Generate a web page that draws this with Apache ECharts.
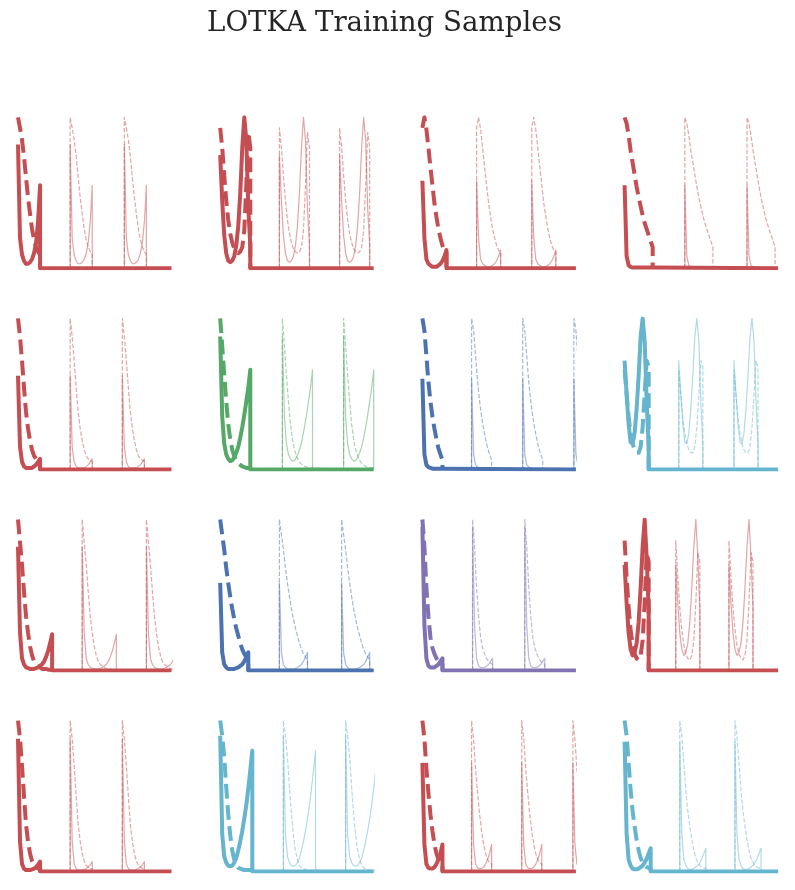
<!DOCTYPE html>
<html><head><meta charset="utf-8">
<script src="https://cdn.jsdelivr.net/npm/echarts@6/dist/echarts.min.js"></script>
<style>html,body{margin:0;padding:0;background:#fff}#c{width:795px;height:890px}</style>
</head><body><div id="c"></div><script>
// time step between samples and padded sequence length
const DT = 2;
const T_END = 153;

// ---- row 1 ----
const prey_r0c0 = [82, 20, 9, 5, 3, 3, 4, 6, 10, 17, 31, 55];
const pred_r0c0 = [100, 93, 85, 74, 60, 47, 36, 26, 19, 14, 11, 9];
const copies_r0c0 = [52, 106];

const prey_r0c1 = [75, 45, 22, 10, 5, 4, 5, 8, 15, 28, 50, 80, 100, 85, 40, 15];
const pred_r0c1 = [93, 80, 62, 45, 32, 23, 17, 13, 11, 10, 11, 14, 25, 55, 90, 80];
const copies_r0c1 = [59, 119];

const prey_r0c2 = [58, 20, 6, 3, 2, 1, 1, 1, 2, 3, 5, 8, 12];
const pred_r0c2 = [93, 100, 92, 80, 67, 55, 43, 34, 26, 20, 15, 12, 11];
const copies_r0c2 = [54, 109];

const prey_r0c3 = [55, 8, 2, 1, 0.5, 0.5, 0.5, 0.5, 0.5, 0.5, 0.5, 0.5, 0.5, 0.5, 0.5];
const pred_r0c3 = [100, 96, 88, 78, 70, 62, 54, 47, 41, 35, 30, 26, 22, 18, 14];
const copies_r0c3 = [60, 122];

// ---- row 2 ----
const prey_r1c0 = [62, 15, 5, 2, 1, 1, 1, 1, 2, 3, 5, 7];
const pred_r1c0 = [100, 88, 72, 54, 38, 27, 19, 13, 9, 7, 6, 5];
const copies_r1c0 = [52, 104];

const prey_r1c1 = [88, 35, 17, 10, 7, 5.5, 6, 8, 11, 15, 21, 28, 36, 45, 54, 66];
const pred_r1c1 = [100, 82, 63, 45, 30, 20, 13, 9, 6, 4, 3, 2, 1.5, 1, 1, 1];
const copies_r1c1 = [62, 123];

const prey_r1c2 = [60, 10, 3, 1.5, 1, 0.5, 0.5, 0.5, 0.5, 0.5, 0.5];
const pred_r1c2 = [100, 92, 75, 58, 45, 35, 27, 20, 14, 10, 6];
const copies_r1c2 = [49, 100, 151];

const prey_r1c3 = [72, 50, 30, 18, 17, 24, 40, 62, 88, 100, 85, 45, 15];
const pred_r1c3 = [66, 50, 35, 24, 17, 13, 11, 11, 15, 28, 50, 72, 68];
const copies_r1c3 = [54, 109];

// ---- row 3 ----
const prey_r2c0 = [82, 25, 8, 4, 2, 1.5, 1, 1, 1, 1.5, 2, 3, 4, 6, 9, 13, 18, 24];
const pred_r2c0 = [100, 85, 70, 52, 36, 25, 16, 10, 6, 4, 3, 2, 1, 1, 1, 0.5, 0.5, 0.5];
const copies_r2c0 = [64, 128];

const prey_r2c1 = [58, 12, 4, 2, 1, 1, 1, 1, 1.5, 2, 3, 4, 6, 9, 12];
const pred_r2c1 = [100, 90, 80, 68, 58, 49, 41, 34, 28, 23, 18, 14, 11, 9, 7];
const copies_r2c1 = [59, 121];

const prey_r2c2 = [95, 30, 8, 3, 2, 2, 2, 3, 4, 6, 8];
const pred_r2c2 = [100, 82, 55, 36, 22, 15, 11, 8, 6, 5, 4];
const copies_r2c2 = [50, 102];

const prey_r2c3 = [70, 45, 25, 14, 10, 12, 18, 32, 55, 82, 100, 75, 40];
const pred_r2c3 = [86, 62, 42, 27, 17, 11, 8, 7, 10, 20, 45, 78, 72];
const copies_r2c3 = [51, 104];

// ---- row 4 ----
const prey_r3c0 = [88, 20, 5, 2, 1, 1, 1, 1.5, 2, 3, 4.5, 6.6];
const pred_r3c0 = [100, 88, 70, 50, 31, 20, 12, 7, 4, 3, 2, 2];
const copies_r3c0 = [52, 104];

const prey_r3c1 = [90, 25, 10, 6, 4, 3.5, 4, 6, 9, 14, 20, 27, 35, 44, 55, 67, 80];
const pred_r3c1 = [100, 90, 76, 56, 38, 24, 14, 8, 4, 2.5, 2, 1.5, 1, 1, 1, 1, 1];
const copies_r3c1 = [63, 125];

const prey_r3c2 = [72, 18, 5, 2.5, 2, 2, 3, 5, 8, 12, 18];
const pred_r3c2 = [100, 88, 68, 52, 38, 27, 18, 12, 8, 6, 5];
const copies_r3c2 = [49, 99, 150];

const prey_r3c3 = [86, 25, 8, 4, 2, 1.5, 1.5, 2, 3, 4, 6, 8.5, 12, 15.5];
const pred_r3c3 = [100, 90, 72, 54, 40, 30, 21, 14, 9, 6, 4, 3, 2.5, 2];
const copies_r3c3 = [55, 110];

const panelColors = [
  'red', 'red', 'red', 'red',
  'red', 'green', 'blue', 'cyan',
  'red', 'blue', 'purple', 'red',
  'red', 'cyan', 'red', 'cyan'
];
const palette = {red: '#C44E52', green: '#55A868', blue: '#4C72B0', purple: '#8172B2', cyan: '#64B5CD'};
const titleText = 'LOTKA Training Samples';

const panels = [
  [prey_r0c0, pred_r0c0, copies_r0c0], [prey_r0c1, pred_r0c1, copies_r0c1], [prey_r0c2, pred_r0c2, copies_r0c2], [prey_r0c3, pred_r0c3, copies_r0c3],
  [prey_r1c0, pred_r1c0, copies_r1c0], [prey_r1c1, pred_r1c1, copies_r1c1], [prey_r1c2, pred_r1c2, copies_r1c2], [prey_r1c3, pred_r1c3, copies_r1c3],
  [prey_r2c0, pred_r2c0, copies_r2c0], [prey_r2c1, pred_r2c1, copies_r2c1], [prey_r2c2, pred_r2c2, copies_r2c2], [prey_r2c3, pred_r2c3, copies_r2c3],
  [prey_r3c0, pred_r3c0, copies_r3c0], [prey_r3c1, pred_r3c1, copies_r3c1], [prey_r3c2, pred_r3c2, copies_r3c2], [prey_r3c3, pred_r3c3, copies_r3c3]
];

function boldPts(arr, pad) {
  const p = arr.map((v, i) => [i * DT, v]);
  const tl = (arr.length - 1) * DT;
  p.push([tl, 0]);
  if (pad) p.push([T_END, 0]);
  return p;
}
function lightPts(arr, starts) {
  const p = [];
  starts.forEach(o => {
    p.push([o, 0]);
    arr.forEach((v, i) => p.push([o + i * DT, v]));
    p.push([o + (arr.length - 1) * DT, 0]);
  });
  return p;
}

const grids = [], xAxes = [], yAxes = [], series = [];
panels.forEach((pn, k) => {
  const r = Math.floor(k / 4), c = k % 4;
  const base = 268.3 + r * 201.1;
  const h = 151;
  grids.push({left: 18 + c * 202.2, top: base - h, width: 153.5, height: h});
  xAxes.push({gridIndex: k, type: 'value', min: 0, max: T_END, show: false});
  yAxes.push({gridIndex: k, type: 'value', min: 0, max: 100, show: false});
  const col = palette[panelColors[k]];
  const common = {type: 'line', xAxisIndex: k, yAxisIndex: k, showSymbol: false, symbol: 'none', animation: false, silent: true, clip: true};
  series.push(Object.assign({}, common, {z: 1, data: lightPts(pn[0], pn[2]),
    lineStyle: {color: col, width: 1.2, opacity: 0.5, join: 'round'}}));
  series.push(Object.assign({}, common, {z: 1, data: lightPts(pn[1], pn[2]),
    lineStyle: {color: col, width: 1.2, opacity: 0.5, type: [4.4, 1.9], join: 'round'}}));
  series.push(Object.assign({}, common, {z: 3, data: boldPts(pn[1], false),
    lineStyle: {color: col, width: 4, type: [14.8, 6.4], join: 'round'}}));
  series.push(Object.assign({}, common, {z: 4, data: boldPts(pn[0], true),
    lineStyle: {color: col, width: 4, join: 'round'}}));
});

const chart = echarts.init(document.getElementById('c'), null, {renderer: 'canvas'});
chart.setOption({
  backgroundColor: '#ffffff',
  animation: false,
  title: {text: titleText, left: 202, top: 5,
    textStyle: {fontFamily: 'DejaVu Serif', fontSize: 27.7, fontWeight: 'normal', color: '#262626'}},
  grid: grids, xAxis: xAxes, yAxis: yAxes, series: series
});
</script></body></html>
